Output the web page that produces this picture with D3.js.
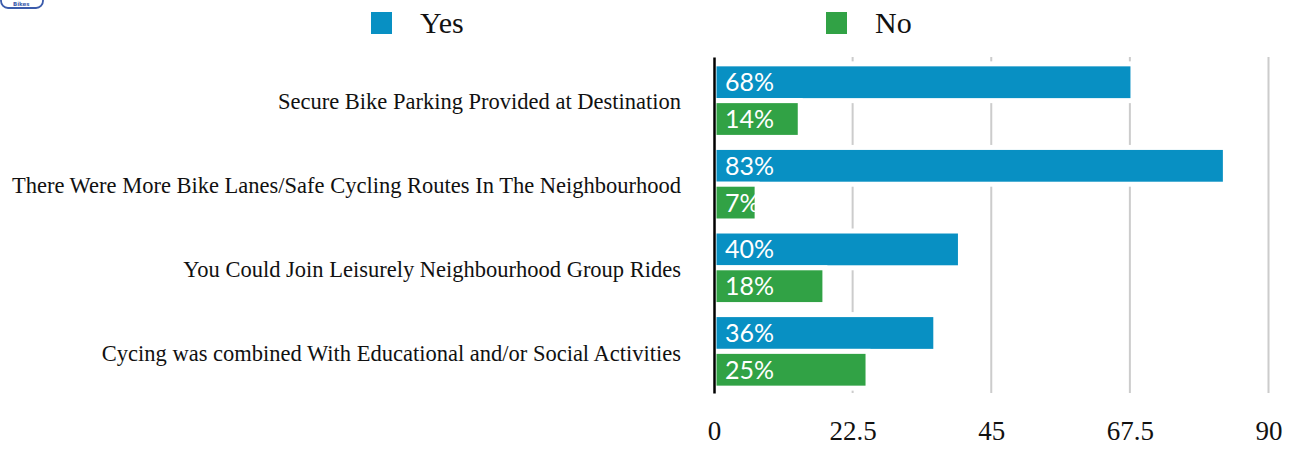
<!DOCTYPE html>
<html>
<head>
<meta charset="utf-8">
<script src="https://cdn.jsdelivr.net/npm/d3@7"></script>
<style>
  html, body { margin: 0; padding: 0; background: #fff; }
  svg { display: block; }
</style>
</head>
<body>
<svg id="chart" width="1300" height="449"></svg>
<script>
const categories = [
  "Secure Bike Parking Provided at Destination",
  "There Were More Bike Lanes/Safe Cycling Routes In The Neighbourhood",
  "You Could Join Leisurely Neighbourhood Group Rides",
  "Cycing was combined With Educational and/or Social Activities"
];
const seriesNames = ["Yes", "No"];
const yesValues = [68, 83, 40, 36];
const noValues = [14, 7, 18, 25];
const xTicks = [0, 22.5, 45, 67.5, 90];
const colors = ["#0890c3", "#31a245"];

(function () {
const svg = d3.select("#chart");
const axisX = 714, xMax = 1268.5, plotTop = 57, plotBottom = 393;

const x = d3.scaleLinear().domain([0, 90]).range([axisX, xMax]);
const y0 = d3.scaleBand().domain(categories).range([plotTop, plotBottom]).paddingInner(0.12).paddingOuter(0.07);
const y1 = d3.scaleBand().domain(seriesNames).range([0, y0.bandwidth()]).padding(0);
const color = d3.scaleOrdinal().domain(seriesNames).range(colors);

const rows = categories.map((c, i) => ({ cat: c, vals: [
  { name: "Yes", v: yesValues[i] }, { name: "No", v: noValues[i] } ] }));

// gridlines
svg.append("g").selectAll("line").data(xTicks.filter(t => t > 0)).join("line")
  .attr("x1", d => x(d)).attr("x2", d => x(d))
  .attr("y1", plotTop).attr("y2", plotBottom)
  .attr("stroke", "#cccccc").attr("stroke-width", 2);

// bars
const g = svg.append("g").selectAll("g").data(rows).join("g")
  .attr("transform", d => `translate(0,${y0(d.cat) + 1})`);
g.selectAll("rect").data(d => d.vals).join("rect")
  .attr("x", x(0))
  .attr("y", d => y1(d.name))
  .attr("width", d => x(d.v) - x(0))
  .attr("height", y1.bandwidth())
  .attr("fill", d => color(d.name))
  .attr("stroke", "#fff").attr("stroke-width", 5);
g.selectAll("text").data(d => d.vals).join("text")
  .attr("x", x(0) + 11)
  .attr("y", d => y1(d.name) + y1.bandwidth() / 2)
  .attr("dy", "0.36em")
  .attr("fill", "#fff")
  .style("font-family", "Lato, 'Noto Sans', sans-serif")
  .style("font-size", "25px")
  .text(d => d.v + "%");

// left axis
const yAxis = d3.axisLeft(d3.scaleBand().domain(categories).range([plotTop, plotBottom]))
  .tickSize(0).tickPadding(33);
const ya = svg.append("g").attr("transform", `translate(${axisX},0)`).call(yAxis);
ya.select(".domain").attr("stroke", "#000").attr("stroke-width", 2.5);
ya.selectAll("text")
  .attr("fill", "#111")
  .attr("dy", "0.45em")
  .style("font-family", "'Liberation Serif', serif")
  .style("font-size", "22.5px");

// bottom axis
const xAxis = d3.axisBottom(x).tickValues(xTicks).tickSize(0).tickPadding(28)
  .tickFormat(d => String(d));
const xa = svg.append("g").attr("transform", `translate(0,${plotBottom})`).call(xAxis);
xa.select(".domain").remove();
xa.selectAll("text")
  .attr("fill", "#111")
  .style("font-family", "'Liberation Serif', serif")
  .style("font-size", "27px")
  .style("font-variant-numeric", "oldstyle-nums");

// legend
const legendX = [371, 826];
const lg = svg.append("g").selectAll("g").data(seriesNames).join("g")
  .attr("transform", (d, i) => `translate(${legendX[i]},0)`);
lg.append("rect").attr("x", 0).attr("y", 12).attr("width", 21).attr("height", 22)
  .attr("fill", d => color(d));
lg.append("text").attr("x", 49).attr("y", 33)
  .attr("fill", "#111")
  .style("font-family", "'Liberation Serif', serif")
  .style("font-size", "30px")
  .text(d => d);

// small logo fragment top-left
const logo = svg.append("g");
logo.append("rect").attr("x", 1).attr("y", -22).attr("width", 42).attr("height", 30).attr("rx", 7)
  .attr("fill", "#fff").attr("stroke", "#3b5bab").attr("stroke-width", 1.8);
logo.append("text").attr("x", 13).attr("y", 5.5).attr("fill", "#3b5bab")
  .style("font-family", "'DejaVu Sans', sans-serif").style("font-size", "5.5px").style("font-weight", "bold")
  .text("Bikes");
})();
</script>
</body>
</html>
